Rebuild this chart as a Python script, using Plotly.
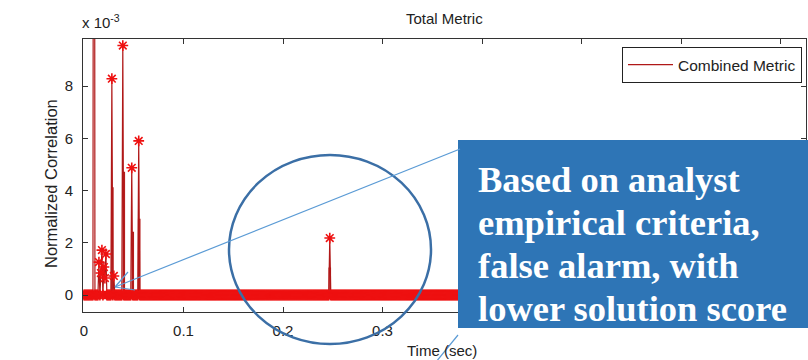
import numpy as np
import plotly.graph_objects as go

# ---------------- data ----------------
# sample times (s) and baseline (≈0) of the normalized correlation
t_start, t_end, t_step = 0.0, 0.726, 0.001
# peaks drawn with '*' markers (time s, value x1e-3)
peak_times = [0.010, 0.015, 0.017, 0.018, 0.020, 0.021, 0.022,
              0.028, 0.030, 0.039, 0.048, 0.055, 0.247]
peak_vals = [50.0, 1.26, 0.84, 1.72, 1.07, 0.65, 1.57,
             8.28, 0.73, 9.55, 4.87, 5.90, 2.18]
# narrow bars without markers (time s, value x1e-3)
bar_times = [0.0285, 0.040, 0.049, 0.0555, 0.247]
bar_vals = [4.1, 4.7, 2.4, 2.9, 1.03]
ytick_vals = [0, 2, 4, 6, 8]
xtick_vals = [0, 0.1, 0.2, 0.3]
xtick_text = ["0", "0.1", "0.2", "0.3"]
xtick_hidden = [0.4, 0.5, 0.6, 0.7]   # labels hidden behind the callout box
box_lines = ["Based on analyst", "empirical criteria,",
             "false alarm, with", "lower solution score"]

# ---------------- build series ----------------
n = int(round((t_end - t_start) / t_step)) + 1
t = np.round(np.linspace(t_start, t_end, n), 4)
y = np.zeros(n)
for pt, pv in zip(peak_times, peak_vals):
    idx = int(round((pt - t_start) / t_step))
    y[idx] = pv * 1e-3

bx, by = [], []
hw = 0.0007
for bt, bv in zip(bar_times, bar_vals):
    bx += [bt - hw, bt - hw, bt + hw, bt + hw, None]
    by += [0, bv * 1e-3, bv * 1e-3, 0, None]

# ---------------- figure ----------------
W, H = 808, 360
L, R, T, B = 83, 806, 39, 312
XR = [-0.001, 0.7256]


def px(xp):
    return (xp - L) / (R - L)


def py(yp):
    return (B - yp) / (B - T)


fig = go.Figure()
fig.add_trace(go.Scatter(x=bx, y=by, mode="lines",
                         line=dict(color="#b51d1d", width=1.2),
                         showlegend=False, hoverinfo="skip"))
fig.add_trace(go.Scatter(x=t, y=y, mode="lines+markers",
                         line=dict(color="#b01818", width=1.2),
                         marker=dict(symbol="asterisk-open", size=9, color="#ee1111",
                                     line=dict(color="#ee1111", width=1.6)),
                         showlegend=False))
fig.add_trace(go.Scatter(x=[None], y=[None], mode="lines",
                         line=dict(color="#b01818", width=1.2),
                         name="Combined Metric"))

axis_common = dict(showline=True, linecolor="#333", linewidth=1,
                   ticks="inside", ticklen=5, tickcolor="#333", showgrid=False,
                   zeroline=False,
                   tickfont=dict(family="Liberation Sans", size=15, color="#222"))
fig.update_layout(
    xaxis=dict(range=XR, tickvals=xtick_vals, ticktext=xtick_text,
               ticklabelstandoff=5, mirror="ticks", **axis_common),
    xaxis2=dict(range=XR, tickvals=xtick_hidden, overlaying="x", side="top",
                showticklabels=False, mirror="ticks", **axis_common),
    yaxis=dict(range=[-0.00065, 0.0098], tickvals=[v * 1e-3 for v in ytick_vals],
               ticktext=[str(v) for v in ytick_vals], ticklabelstandoff=6,
               mirror="ticks", **axis_common),
)
# invisible trace to activate the top tick axis
fig.add_trace(go.Scatter(x=[None], y=[None], xaxis="x2", showlegend=False,
                         hoverinfo="skip"))

shapes = []
# blue callout box
shapes.append(dict(type="rect", xref="paper", yref="paper",
                   x0=px(458), x1=px(809), y0=py(328), y1=py(140),
                   fillcolor="#2e75b6", line=dict(width=0), layer="above"))
# circle
shapes.append(dict(type="circle", xref="paper", yref="paper",
                   x0=px(229), x1=px(431), y0=py(344), y1=py(155),
                   line=dict(color="#3b6fa6", width=2.5), layer="above"))
# callout lines
lc = "#5b9bd5"
shapes.append(dict(type="line", xref="paper", yref="paper",
                   x0=px(460), y0=py(149), x1=px(115), y1=py(287),
                   line=dict(color=lc, width=1.2), layer="above"))
shapes.append(dict(type="line", xref="paper", yref="paper",
                   x0=px(115), y0=py(287), x1=px(128), y1=py(272),
                   line=dict(color=lc, width=1.2), layer="above"))
shapes.append(dict(type="line", xref="paper", yref="paper",
                   x0=px(115), y0=py(287), x1=px(135), y1=py(290),
                   line=dict(color=lc, width=1.2), layer="above"))
shapes.append(dict(type="line", xref="paper", yref="paper",
                   x0=px(458), y0=py(335), x1=px(436), y1=py(362),
                   line=dict(color=lc, width=1.2), layer="above"))

annotations = []
for i, txt in enumerate(box_lines):
    annotations.append(dict(text="<b>" + txt + "</b>", xref="paper", yref="paper",
                            x=px(476), y=py(179 + i * 43), xanchor="left",
                            yanchor="middle", showarrow=False,
                            font=dict(family="Liberation Serif", size=36.5,
                                      color="white")))
annotations.append(dict(text="Total Metric", xref="paper", yref="paper",
                        x=px(444), y=py(18), showarrow=False,
                        xanchor="center", yanchor="middle",
                        font=dict(family="Liberation Sans", size=15, color="#222")))
annotations.append(dict(text="x 10<sup>-3</sup>", xref="paper", yref="paper",
                        x=px(80), y=py(33), showarrow=False,
                        xanchor="left", yanchor="bottom",
                        font=dict(family="Liberation Sans", size=15, color="#222")))
annotations.append(dict(text="Normalized Correlation", xref="paper", yref="paper",
                        x=px(51), y=py(184), showarrow=False, textangle=-90,
                        xanchor="center", yanchor="middle",
                        font=dict(family="Liberation Sans", size=16.5, color="#222")))
annotations.append(dict(text="Time (sec)", xref="paper", yref="paper",
                        x=px(442), y=py(350), showarrow=False,
                        xanchor="center", yanchor="middle",
                        font=dict(family="Liberation Sans", size=15, color="#222")))

fig.update_layout(
    width=W, height=H,
    margin=dict(l=L, r=W - R, t=T, b=H - B),
    plot_bgcolor="white", paper_bgcolor="white",
    shapes=shapes, annotations=annotations,
    legend=dict(x=px(802), y=py(47), xanchor="right", yanchor="top",
                bordercolor="#222", borderwidth=1, bgcolor="white",
                font=dict(family="Liberation Sans", size=15.5, color="#222"),
                itemwidth=45),
)

fig.write_html("out.html")
